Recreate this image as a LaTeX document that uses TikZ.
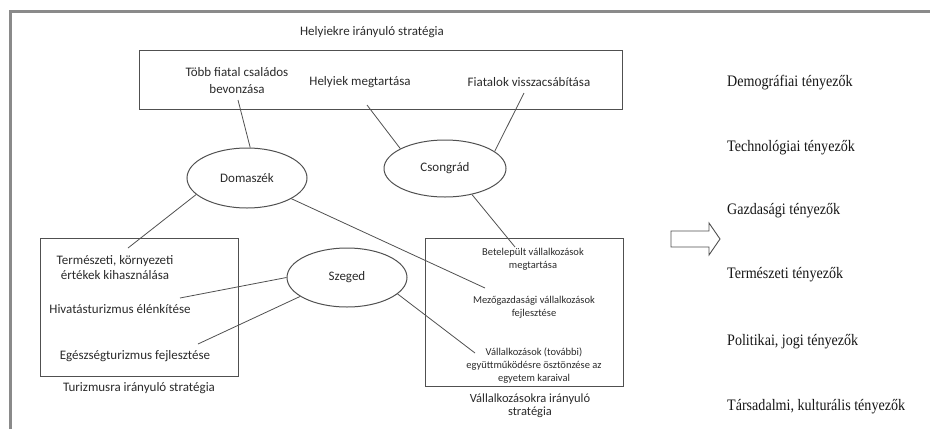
\documentclass[tikz,border=0pt]{standalone}
\usepackage{fontspec}
\setmainfont{Carlito}
\newfontfamily\timesf{Liberation Serif}
\usetikzlibrary{shapes.geometric}
\definecolor{framecol}{HTML}{8A8A8A}
\definecolor{boxcol}{HTML}{505050}
\definecolor{txtcol}{HTML}{2A2A2A}
\definecolor{rtxt}{HTML}{151515}
\tikzset{
  boxshape/.style={draw=boxcol, line width=1pt, rectangle, inner sep=0pt},
  ell/.style={draw=boxcol, line width=1pt, ellipse, inner sep=0pt, text=txtcol,
              font=\fontsize{13}{15}\selectfont},
  lbl/.style={inner sep=0pt, text=txtcol, align=center, font=\fontsize{13}{17}\selectfont},
  lblb/.style={inner sep=0pt, text=txtcol, align=center, font=\fontsize{13}{15}\selectfont},
  small/.style={inner sep=0pt, text=txtcol, align=center, font=\fontsize{10.5}{13}\selectfont},
  factor/.style={inner sep=0pt, anchor=west, text=rtxt, font=\timesf\fontsize{16}{18}\selectfont},
  conn/.style={draw=boxcol, line width=0.8pt}
}
\newcommand{\cond}[1]{\scalebox{0.88}[1]{#1}}
\begin{document}
\begin{tikzpicture}[x=1pt,y=-1pt]
\useasboundingbox (0,0) rectangle (930,429);
% outer frame
\draw[framecol, line width=3pt] (10,429) -- (10,11) -- (930,11);

% top box
\node[lbl] (ttop) at (372,32) {Helyiekre irányuló stratégia};
\node[boxshape, minimum width=483pt, minimum height=59pt] (topbox) at (380.5,79.5) {};
\node[lbl] (t1) at (237,81) {Több fiatal családos\\bevonzása};
\node[lbl] (t2) at (360,82) {Helyiek megtartása};
\node[lbl] (t3) at (529,82) {Fiatalok visszacsábítása};

% ellipses
\node[ell, minimum width=120pt, minimum height=60pt] (dom) at (247,178) {Domaszék};
\node[ell, minimum width=122pt, minimum height=57pt] (cso) at (445,168.5) {Csongrád};
\node[ell, minimum width=120pt, minimum height=59pt] (sze) at (347,277.5) {Szeged};

% tourism box
\node[boxshape, minimum width=198pt, minimum height=138pt] (turbox) at (139,307) {};
\node[lblb] (tz1) at (115,267.5) {Természeti, környezeti\\értékek kihasználása};
\node[lblb] (tz2) at (120,309) {Hivatásturizmus élénkítése};
\node[lblb] (tz3) at (135,356) {Egészségturizmus fejlesztése};
\node[lblb] (tzl) at (139,388) {Turizmusra irányuló stratégia};

% business box
\node[boxshape, minimum width=198pt, minimum height=148pt] (vbox) at (524,312) {};
\node[small] (v1) at (533,259.5) {Betelepült vállalkozások\\megtartása};
\node[small] (v2) at (534,307.5) {Mezőgazdasági vállalkozások\\fejlesztése};
\node[small] (v3) at (534,366) {Vállalkozások (további)\\együttműködésre ösztönzése az\\egyetem karaival};
\node[lblb, font=\fontsize{12.5}{13.5}\selectfont] (vl) at (530,405.5) {Vállalkozásokra irányuló\\stratégia};

% connector free ends
\coordinate (c1) at (238,100);
\coordinate (c2) at (367,105);
\coordinate (c3) at (524,93);
\coordinate (c4) at (515,247);
\coordinate (c5) at (128,248);
\coordinate (c6) at (485,288);
\coordinate (c7) at (180,298);
\coordinate (c8) at (198,344);
\coordinate (c9) at (475,353);

\draw[conn] (c1) -- (dom.84);
\draw[conn] (c2) -- (cso.156);
\draw[conn] (c3) -- (cso.19);
\draw[conn] (cso.-44) -- (c4);
\draw[conn] (dom.198) -- (c5);
\draw[conn] (dom.335) -- (c6);
\draw[conn] (sze.180) -- (c7);
\draw[conn] (sze.202) -- (c8);
\draw[conn] (sze.342) -- (c9);

% block arrow
\draw[draw=boxcol, line width=0.9pt, line join=miter]
  (671,231) -- (709,231) -- (709,223) -- (720,239) -- (709,255) -- (709,247) -- (671,247) -- cycle;

% factors
\node[factor] (f1) at (727,83) {\cond{Demográfiai tényezők}};
\node[factor] (f2) at (727,148) {\cond{Technológiai tényezők}};
\node[factor] (f3) at (727,211) {\cond{Gazdasági tényezők}};
\node[factor] (f4) at (727,275) {\cond{Természeti tényezők}};
\node[factor] (f5) at (727,342) {\cond{Politikai, jogi tényezők}};
\node[factor] (f6) at (727,407) {\cond{Társadalmi, kulturális tényezők}};
\end{tikzpicture}
\end{document}
